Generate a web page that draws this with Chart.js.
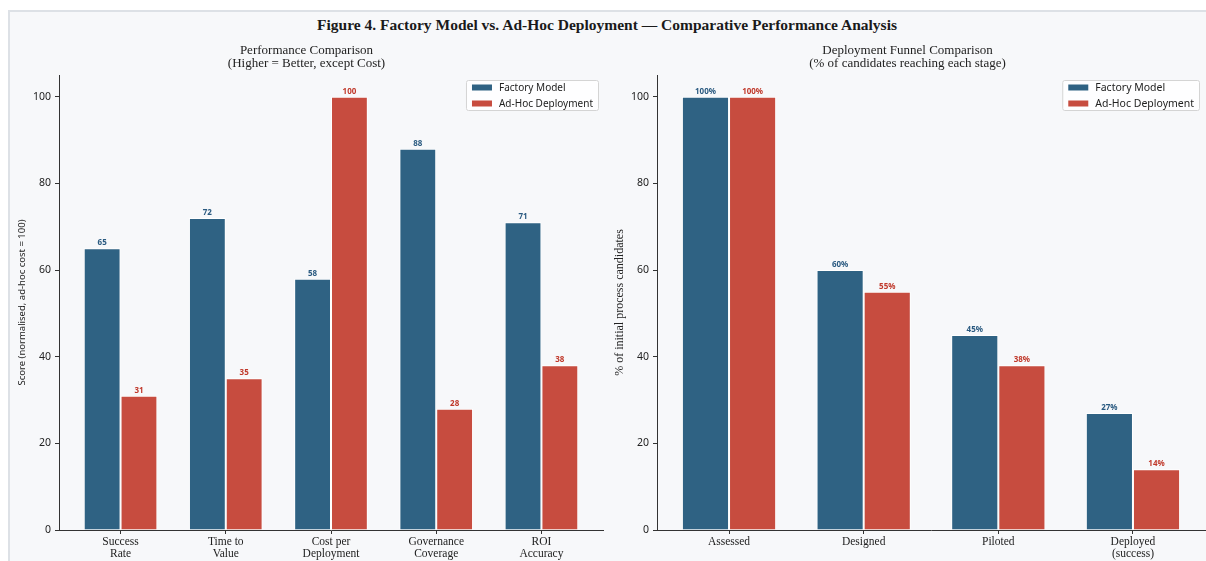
<!DOCTYPE html>
<html>
<head>
<meta charset="utf-8">
<script src="https://cdn.jsdelivr.net/npm/chart.js@4.4.1/dist/chart.umd.min.js"></script>
<style>
  html, body { margin: 0; padding: 0; background: #ffffff; width: 1206px; height: 561px; overflow: hidden; }
  #panel { position: absolute; left: 8px; top: 10px; width: 1198px; height: 551px; background: #f7f8fa;
           border-left: 2px solid #dde1e6; border-top: 2px solid #dde1e6; box-sizing: border-box; }
  #title { position: absolute; left: 8px; top: 16px; width: 1198px; text-align: center; line-height: 18px;
           font: bold 15.5px "Liberation Serif", serif; color: #1a1a1a; }
  canvas { position: absolute; top: 40px; }
  #perf { left: 10px; }
  #funnel { left: 610px; }
</style>
</head>
<body>
<div id="panel"></div>
<div id="title">Figure 4. Factory Model vs. Ad-Hoc Deployment — Comparative Performance Analysis</div>
<canvas id="perf" width="600" height="521"></canvas>
<canvas id="funnel" width="596" height="521"></canvas>
<script>
// ---- data ----
const seriesNames = ['Factory Model', 'Ad-Hoc Deployment'];

const perfCategories = [['Success', 'Rate'], ['Time to', 'Value'], ['Cost per', 'Deployment'], ['Governance', 'Coverage'], ['ROI', 'Accuracy']];
const perfFactory = [65, 72, 58, 88, 71];
const perfAdHoc = [31, 35, 100, 28, 38];

const funnelCategories = [['Assessed'], ['Designed'], ['Piloted'], ['Deployed', '(success)']];
const funnelFactory = [100, 60, 45, 27];
const funnelAdHoc = [100, 55, 38, 14];

const yTicks = [0, 20, 40, 60, 80, 100];

// ---- styling ----
const SERIF = '"Liberation Serif", serif';
const SANS = '"Noto Sans", "DejaVu Sans", sans-serif';
const barColors = ['#2f6283', '#c74c3f'];
const labelColors = ['#2a5a80', '#c0392b'];
const axisColor = '#333333';

// value labels above each bar
const valueLabels = {
  id: 'valueLabels',
  afterDatasetsDraw(chart, args, opts) {
    const ctx = chart.ctx;
    chart.data.datasets.forEach((ds, di) => {
      const meta = chart.getDatasetMeta(di);
      meta.data.forEach((bar, i) => {
        ctx.save();
        ctx.font = 'bold 8px ' + SANS;
        ctx.fillStyle = labelColors[di];
        ctx.textAlign = 'center';
        ctx.textBaseline = 'alphabetic';
        ctx.fillText(ds.data[i].y + opts.suffix, bar.x, bar.y - 3);
        ctx.restore();
      });
    });
  }
};

// boxed legend in the upper right of the plot area
const cornerLegend = {
  id: 'cornerLegend',
  afterDraw(chart, args, opts) {
    const ctx = chart.ctx;
    const area = chart.chartArea;
    ctx.save();
    ctx.font = opts.size + 'px ' + SANS;
    const labels = chart.data.datasets.map(d => d.label);
    const textW = Math.max(...labels.map(t => ctx.measureText(t).width));
    const w = 5 + 20 + 7 + textW + 6;
    const h = 30;
    const x = area.right - opts.margin - w;
    const y = area.top + 5;
    ctx.beginPath();
    ctx.roundRect(x + 0.5, y + 0.5, w, h, 2);
    ctx.fillStyle = 'rgba(255,255,255,0.85)';
    ctx.fill();
    ctx.strokeStyle = '#d4d4d4';
    ctx.lineWidth = 1;
    ctx.stroke();
    labels.forEach((t, i) => {
      const cy = y + 7.5 + i * 16;
      ctx.fillStyle = chart.data.datasets[i].backgroundColor;
      ctx.fillRect(x + 6, cy - 3, 20, 6);
      ctx.fillStyle = '#222';
      ctx.textAlign = 'left';
      ctx.textBaseline = 'middle';
      ctx.fillText(t, x + 33, cy + 0.5);
    });
    ctx.restore();
  }
};

function buildChart(canvasId, cfg) {
  const toPoints = arr => arr.map((v, i) => ({ x: i, y: v }));
  return new Chart(document.getElementById(canvasId), {
    type: 'bar',
    data: {
      datasets: [
        { label: seriesNames[0], data: toPoints(cfg.factory), backgroundColor: barColors[0], borderColor: '#ffffff', borderWidth: 1 },
        { label: seriesNames[1], data: toPoints(cfg.adhoc), backgroundColor: barColors[1], borderColor: '#ffffff', borderWidth: 1 }
      ]
    },
    plugins: [valueLabels, cornerLegend],
    options: {
      responsive: false,
      animation: false,
      devicePixelRatio: 1,
      layout: { padding: { left: 0, right: cfg.padRight, top: 0, bottom: 0 } },
      datasets: { bar: { categoryPercentage: 0.7, barPercentage: 1.0, grouped: true } },
      plugins: {
        legend: { display: false },
        tooltip: { enabled: false },
        valueLabels: { suffix: cfg.suffix },
        cornerLegend: { size: cfg.legendSize, margin: cfg.legendMargin },
        title: {
          display: true,
          text: cfg.title,
          color: '#222',
          font: { family: SERIF, size: 13, weight: 'normal', lineHeight: 1.0 },
          padding: { top: 4, bottom: 5 }
        }
      },
      scales: {
        x: {
          type: 'linear',
          min: cfg.xmin,
          max: cfg.xmax,
          offset: false,
          afterBuildTicks: s => { s.ticks = cfg.categories.map((_, i) => ({ value: i })); },
          afterFit: s => { s.height = 31; },
          ticks: {
            callback: v => cfg.categories[v],
            color: '#222',
            font: { family: SERIF, size: 11.5, lineHeight: 1.05 },
            padding: 2,
            maxRotation: 0,
            autoSkip: false
          },
          grid: { display: true, offset: false, drawOnChartArea: false, drawTicks: true, tickLength: 4, color: axisColor },
          border: { display: true, color: axisColor, width: 1 }
        },
        y: {
          min: 0,
          max: 105,
          afterBuildTicks: s => { s.ticks = yTicks.map(v => ({ value: v })); },
          afterFit: s => { s.width = cfg.yWidth; },
          ticks: { color: '#222', font: { family: SANS, size: 10.5 }, padding: 4, includeBounds: false },
          grid: { display: true, drawOnChartArea: false, drawTicks: true, tickLength: 4, color: axisColor },
          border: { display: true, color: axisColor, width: 1 },
          title: {
            display: true,
            text: cfg.yTitle,
            color: '#222',
            font: cfg.yTitleFont,
            padding: { top: cfg.yTitlePad, bottom: 0 }
          }
        }
      }
    }
  });
}

buildChart('perf', {
  title: ['Performance Comparison', '(Higher = Better, except Cost)'],
  categories: perfCategories,
  factory: perfFactory,
  adhoc: perfAdHoc,
  suffix: '',
  xmin: -0.585, xmax: 4.585,
  yWidth: 49, padRight: 7,
  yTitle: 'Score (normalised, ad-hoc cost = 100)',
  yTitleFont: { family: SANS, size: 9.5 },
  yTitlePad: 7,
  legendSize: 10, legendMargin: 5
});

buildChart('funnel', {
  title: ['Deployment Funnel Comparison', '(% of candidates reaching each stage)'],
  categories: funnelCategories,
  factory: funnelFactory,
  adhoc: funnelAdHoc,
  suffix: '%',
  xmin: -0.535, xmax: 3.535,
  yWidth: 47, padRight: 1,
  yTitle: '% of initial process candidates',
  yTitleFont: { family: SERIF, size: 12 },
  yTitlePad: 3,
  legendSize: 10.5, legendMargin: 6
});
</script>
</body>
</html>
